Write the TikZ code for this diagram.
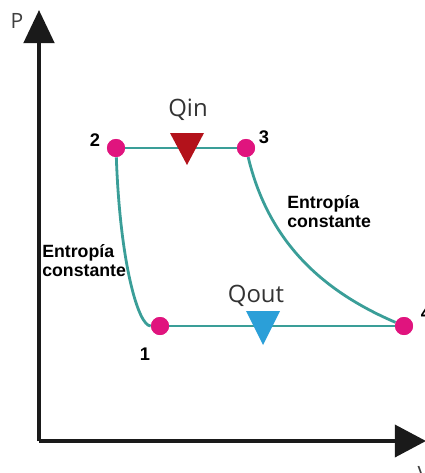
\documentclass[tikz,border=0pt]{standalone}
\usepackage{fontspec}
\setmainfont{Liberation Sans}
\newfontfamily\qfont{Open Sans}
\usetikzlibrary{arrows.meta}
\definecolor{cyc}{HTML}{3A9E98}
\definecolor{ptcol}{HTML}{E0147E}
\definecolor{qinred}{HTML}{B3121B}
\definecolor{qoutblue}{HTML}{2B9FD8}
\definecolor{axgray}{HTML}{1A1A1A}

\begin{document}
\begin{tikzpicture}[x=0.025cm,y=-0.025cm,
    pt/.style={circle,fill=ptcol,minimum size=0.45cm,inner sep=0pt},
    num/.style={font=\bfseries\fontsize{13}{13}\selectfont},
    note/.style={font=\bfseries\fontsize{12.6}{14}\selectfont,align=left,anchor=north west,inner sep=0pt},
    qlab/.style={font=\qfont\fontsize{17}{17}\selectfont,text=black!80},
    cycline/.style={cyc,line width=0.07cm}]
    \useasboundingbox (0,0) rectangle (424,473);
    % axes
    \coordinate (O) at (39,441);
    \coordinate (Ptop) at (39,10);
    \coordinate (Vend) at (426,441);
    \draw[axgray,line width=0.1cm,-{Triangle[length=0.83cm,width=0.76cm]}] (O)--(Ptop);
    \draw[axgray,line width=0.1cm,-{Triangle[length=0.78cm,width=0.8cm]}] (O)--(Vend);
    \node[font=\qfont\fontsize{15}{15}\selectfont,text=black!75] (Plab) at (17,21) {P};
    \node[font=\qfont\fontsize{15}{15}\selectfont,text=black!75] (Vlab) at (424,474) {V};
    % states
    \node[pt] (p1) at (160,326) {};
    \node[pt] (p2) at (116,148) {};
    \node[pt] (p3) at (246,148) {};
    \node[pt] (p4) at (404,326) {};
    % cycle
    \draw[cycline] (p2)--(p3);
    \draw[cycline] (p1)--(p4);
    \draw[cycline] (p2) .. controls (120,262) and (138,326) .. (p1);
    \draw[cycline] (p3) .. controls (268,240) and (320,290) .. (p4);
    \node[pt] at (p1) {};
    \node[pt] at (p2) {};
    \node[pt] at (p3) {};
    \node[pt] at (p4) {};
    % heat
    \coordinate (qin) at (187,133);
    \coordinate (qout) at (263,311);
    \fill[qinred] (qin) ++(-17,0)--++(34,0)--++(-17,32)--cycle;
    \fill[qoutblue] (qout) ++(-17,0)--++(34,0)--++(-17,34)--cycle;
    \node[qlab] (Qin) at (188,110) {Qin};
    \node[qlab] (Qout) at (256,296) {Qout};
    % labels
    \node[num] (n1) at (145,354) {1};
    \node[num] (n2) at (95,140) {2};
    \node[num] (n3) at (264,137) {3};
    \node[num] (n4) at (426,313) {4};
    \node[note] (s12) at (42,244) {Entropía\\constante};
    \node[note] (s34) at (287,195) {Entropía\\constante};
\end{tikzpicture}
\end{document}
